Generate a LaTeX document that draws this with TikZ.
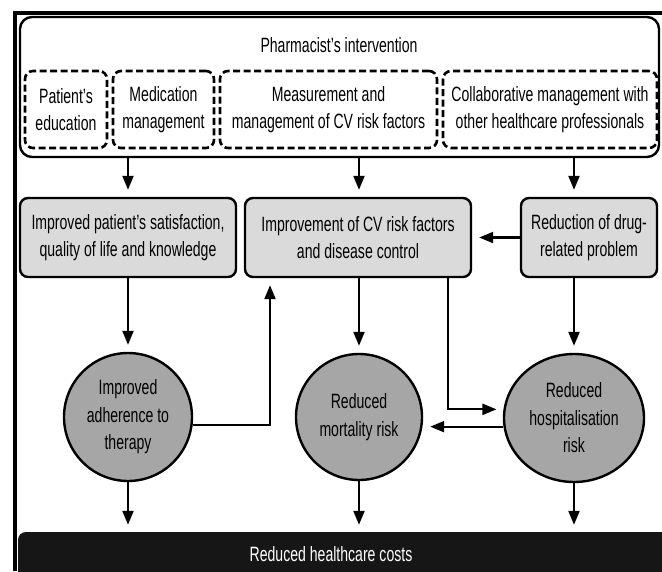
\documentclass[tikz,border=0pt]{standalone}
\usepackage{fontspec}
\setmainfont{Liberation Sans}[FakeStretch=0.68]
\usetikzlibrary{arrows.meta,shapes.geometric}
\definecolor{boxgrey}{HTML}{DADADA}
\definecolor{circgrey}{HTML}{A6A6A6}
\definecolor{barblack}{HTML}{161616}
\begin{document}
\begin{tikzpicture}[x=1pt,y=-1pt,
    font=\fontsize{20.7}{27.5}\selectfont,
    outer/.style={draw,line width=2.4pt,rounded corners=12pt,inner sep=0pt},
    dbox/.style={draw,line width=2.6pt,dash pattern=on 7pt off 3.5pt,rounded corners=8pt,
        minimum height=77pt,align=center,inner sep=0pt},
    gbox/.style={draw,fill=boxgrey,line width=2.4pt,rounded corners=8pt,
        minimum height=79pt,align=center,inner sep=0pt},
    circ/.style={circle,draw,fill=circgrey,line width=2.4pt,align=center,inner sep=0pt},
    bar/.style={fill=barblack,rounded corners=8pt,minimum width=654pt,minimum height=49pt},
    arr/.style={line width=2.2pt,-{Triangle[length=14pt,width=11pt]},shorten >=7pt}]
    \useasboundingbox (0,0) rectangle (662,571);

    % frame
    \fill (13,11) rectangle (662,15);
    \fill (13,11) rectangle (17,571);

    % intervention
    \node[outer,minimum width=639pt,minimum height=140pt] (pi) at (339.5,87) {};
    \node (pitxt) at (339,45) {Pharmacist's intervention};
    \node[dbox,minimum width=82pt] (edu) at (66,109.5) {Patient's\\education};
    \node[dbox,minimum width=101pt] (med) at (163.5,109.5) {Medication\\management};
    \node[dbox,minimum width=217pt] (meas) at (328.5,109.5) {Measurement and\\management of CV risk factors};
    \node[dbox,minimum width=214pt] (collab) at (550,109.5) {Collaborative management with\\other healthcare professionals};

    % outcomes
    \node[gbox,minimum width=216pt] (satis) at (128,237.5) {Improved patient's satisfaction,\\quality of life and knowledge};
    \node[gbox,minimum width=226pt] (cvrisk) at (358,237.5) {Improvement of CV risk factors\\and disease control};
    \node[gbox,minimum width=136pt] (drug) at (589,237.5) {Reduction of drug-\\related problem};

    \node[circ,minimum size=128pt] (adher) at (128,417) {Improved\\adherence to\\therapy};
    \node[circ,minimum size=126pt] (mort) at (359,417) {Reduced\\mortality risk};
    \node[circ,ellipse,minimum width=140pt,minimum height=128pt] (hosp) at (574,418) {Reduced\\hospitalisation\\risk};

    % costs
    \node[bar] (cost) at (345,556.5) {};
    \node[text=white] (costtxt) at (331,554) {Reduced healthcare costs};

    \draw[arr] (pi.south -| satis.north) -- (satis.north);
    \draw[arr] (pi.south -| mort.north) -- (cvrisk.north -| mort.north);
    \draw[arr] (pi.south -| hosp.north) -- (drug.north -| hosp.north);
    \draw[arr] (drug.west) -- (cvrisk.east);

    \draw[arr] (satis.south) -- (adher.north);
    \draw[arr] (cvrisk.south -| mort.north) -- (mort.north);
    \draw[arr] (drug.south -| hosp.north) -- (hosp.north);

    \draw[arr] (adher.-7) -| ([xshift=-88pt]cvrisk.south);
    \draw[arr] ([xshift=90pt]cvrisk.south) |- (hosp.173);
    \draw[arr] (hosp.187) -- (hosp.187 -| mort.east);

    \draw[arr] (adher.south) -- (adher.south |- cost.north);
    \draw[arr] (mort.south) -- (mort.south |- cost.north);
    \draw[arr] (hosp.south) -- (hosp.south |- cost.north);

\end{tikzpicture}
\end{document}
